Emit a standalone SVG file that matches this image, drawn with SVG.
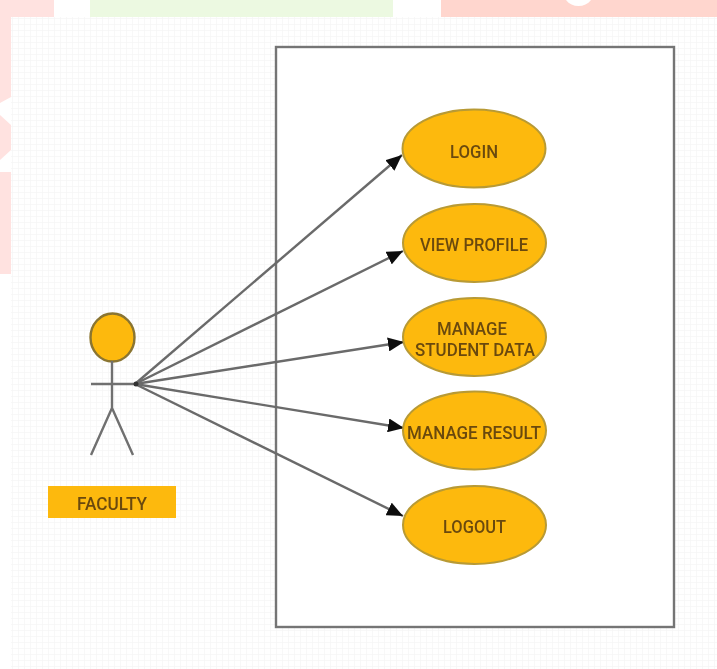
<svg xmlns="http://www.w3.org/2000/svg" width="717" height="669" viewBox="0 0 717 669">
<style>
.uc{fill:#fdb90a;stroke:#b89a35;stroke-width:2}
.t{font-family:Roboto,"Liberation Sans",sans-serif;font-size:19px;font-weight:500;fill:#6b4a0c;text-anchor:middle}
.c line{stroke:#6a6a6a;stroke-width:2.400;marker-end:url(#a)}
.s{stroke:#707070;stroke-width:2.400;fill:none}
.soft{filter:url(#b)}
</style>
<defs>
<filter id="b" x="-5%" y="-5%" width="110%" height="110%"><feGaussianBlur stdDeviation="0.6"/></filter>
<pattern id="g" width="6" height="6" patternUnits="userSpaceOnUse"><rect width="6" height="6" fill="#fff"/><path d="M0 0H6M0 0V6" stroke="#f6f6f6" stroke-width="1.500"/></pattern>
<marker id="a" markerUnits="userSpaceOnUse" markerWidth="17" markerHeight="14" refX="16" refY="7" orient="auto"><path d="M0 0L16 7L0 14Z" fill="#111"/></marker>
</defs>
<rect width="717" height="669" fill="#fff"/>
<rect x="0" y="0" width="54" height="17" fill="#ffe2e0"/>
<path d="M0 17H11V97L0 103V115L11 125V150L0 160V172H11V274H0Z" fill="#ffe2e0"/>
<rect x="90" y="0" width="303" height="17" fill="#ecf9e1"/>
<path d="M441 0H566C572 8 585 8 591 0H717V17H441Z" fill="#ffd6ce"/>
<rect x="11" y="17" width="706" height="652" fill="url(#g)"/>
<g class="soft">
<rect x="276" y="47" width="398" height="580" fill="#fff" stroke="#747474" stroke-width="2.400"/>
<g id="connectors" class="c">
<line x1="135" y1="384" x2="402" y2="155"/>
<line x1="135" y1="384" x2="403" y2="251"/>
<line x1="135" y1="384" x2="404" y2="342"/>
<line x1="135" y1="384" x2="404" y2="428"/>
<line x1="135" y1="384" x2="403" y2="516"/>
</g>
<g id="actor">
<ellipse cx="112.500" cy="337.500" rx="22" ry="24" fill="#fdb90a" stroke="#8a7430" stroke-width="2.400"/>
<path class="s" d="M112 361V408M91 384H135M112 408L91 455M112 408L133 455"/>
<circle cx="136" cy="384" r="2.500" fill="#333"/>
</g>
<g id="faculty"><rect x="48" y="486" width="128" height="32" fill="#fdb90a"/><text class="t" x="112" y="510" textLength="70" lengthAdjust="spacingAndGlyphs">FACULTY</text></g>
<g id="login"><ellipse class="uc" cx="474" cy="148.500" rx="71.500" ry="39"/><text class="t" x="474" y="158" textLength="48" lengthAdjust="spacingAndGlyphs">LOGIN</text></g>
<g id="view-profile"><ellipse class="uc" cx="474.500" cy="243" rx="71.500" ry="39"/><text class="t" x="474" y="251" textLength="108" lengthAdjust="spacingAndGlyphs">VIEW PROFILE</text></g>
<g id="manage-student-data"><ellipse class="uc" cx="474.500" cy="337" rx="71.500" ry="39"/><text class="t" x="472" y="335" textLength="70" lengthAdjust="spacingAndGlyphs">MANAGE</text><text class="t" x="475" y="356" textLength="120" lengthAdjust="spacingAndGlyphs">STUDENT DATA</text></g>
<g id="manage-result"><ellipse class="uc" cx="474.500" cy="430.500" rx="71.500" ry="39"/><text class="t" x="474" y="439" textLength="134" lengthAdjust="spacingAndGlyphs">MANAGE RESULT</text></g>
<g id="logout"><ellipse class="uc" cx="474.500" cy="525" rx="71.500" ry="39"/><text class="t" x="474.500" y="533" textLength="63" lengthAdjust="spacingAndGlyphs">LOGOUT</text></g>
</g>
</svg>
